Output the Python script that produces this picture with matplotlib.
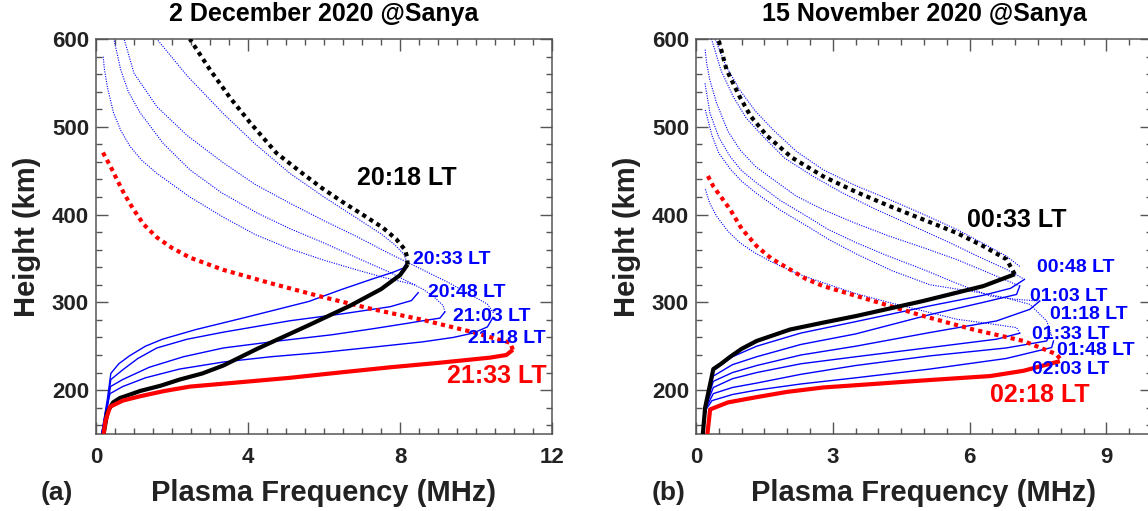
import matplotlib
matplotlib.use("Agg")
import matplotlib.pyplot as plt
from matplotlib.ticker import MultipleLocator

plt.rcParams['font.family'] = ['Liberation Sans', 'DejaVu Sans']
plt.rcParams['font.weight'] = 'bold'

# ---------------- Panel (a): 2 December 2020 ----------------
A_TITLE = "2 December 2020 @Sanya"
A_BLACK_SOLID_F = [0.2, 0.3, 0.45, 0.63, 0.9, 1.16, 1.7, 2.2, 2.8, 3.35, 4.24, 5.55, 6.68, 7.5, 8.0, 8.2]
A_BLACK_SOLID_H = [150, 175, 186, 191, 195, 199, 205, 212, 219, 228, 247, 273, 296, 315, 331, 343]
A_BLACK_DOT_F = [8.2, 8.19, 8.13, 7.9, 7.55, 7.05, 6.5, 5.95, 5.46, 4.75, 4.05, 3.53, 3.0, 2.47]
A_BLACK_DOT_H = [343, 351, 360, 372, 385, 399, 414, 430, 446, 470, 505, 533, 565, 600]
A_RED_SOLID_F = [0.2, 0.25, 0.37, 0.7, 1.16, 1.8, 2.47, 3.8, 5.1, 6.4, 7.74, 9.0, 10.37, 10.8, 10.97]
A_RED_SOLID_H = [150, 165, 181, 188, 193, 199, 204, 209, 214, 220, 226, 231, 237, 240, 246]
A_RED_DOT_F = [10.97, 10.9, 10.4, 9.92, 8.6, 7.3, 5.97, 4.66, 3.35, 2.47, 2.0, 1.6, 1.25, 0.97, 0.75, 0.55, 0.38, 0.24, 0.18]
A_RED_DOT_H = [246, 254, 260, 266, 280, 292, 306, 321, 337, 351, 362, 374, 389, 407, 423, 440, 455, 466, 471]

A_BLUE_SOLID_F = [
    [0.15, 0.3, 0.39, 0.6, 0.88, 1.3, 1.75, 2.63, 3.95, 5.6, 6.42, 7.3, 7.8, 8.09, 8.18],
    [0.15, 0.3, 0.39, 0.7, 1.1, 1.6, 2.4, 3.35, 5.1, 6.5, 7.74, 8.3, 8.48],
    [0.15, 0.3, 0.38, 0.7, 1.4, 2.3, 3.35, 4.8, 6.2, 7.3, 8.18, 8.6, 9.05, 9.18],
    [0.15, 0.25, 0.37, 0.7, 1.3, 2.2, 3.35, 4.6, 5.97, 7.3, 8.6, 9.4, 9.93, 10.3, 10.45],
]
A_BLUE_SOLID_H = [
    [150, 190, 219, 230, 239, 250, 258, 269, 283, 301, 314, 327, 334, 339, 346],
    [150, 185, 212, 223, 236, 248, 258, 266, 279, 287, 295, 302, 311],
    [150, 180, 204, 212, 226, 238, 248, 256, 263, 270, 276, 279, 282, 289],
    [150, 175, 196, 204, 214, 224, 232, 238, 243, 249, 255, 260, 265, 272, 283],
]
A_BLUE_DOT_F = [
    [8.18, 8.1, 7.85, 7.5, 6.86, 6.0, 5.1, 4.2, 3.35, 2.4, 1.6],
    [8.4, 7.6, 6.86, 6.0, 5.1, 4.2, 3.35, 2.47, 1.6, 1.2, 0.89, 0.65, 0.46, 0.3, 0.22, 0.19],
    [9.18, 9.14, 8.9, 8.6, 7.74, 6.9, 5.98, 5.1, 4.23, 3.3, 2.47, 1.77, 1.16, 0.85, 0.65, 0.47],
    [10.46, 10.3, 9.93, 9.3, 8.6, 7.7, 6.86, 6.0, 5.1, 4.2, 3.35, 2.4, 1.6, 1.0, 0.74],
]
A_BLUE_DOT_H = [
    [346, 355, 366, 378, 396, 420, 447, 480, 515, 558, 600],
    [320, 328, 337, 348, 361, 377, 397, 420, 447, 462, 478, 496, 516, 545, 566, 580],
    [289, 296, 306, 315, 334, 350, 368, 384, 402, 425, 451, 481, 516, 540, 565, 600],
    [288, 298, 307, 322, 337, 356, 375, 393, 413, 434, 459, 490, 523, 561, 600],
]
A_BLUE_LABELS = ["20:33 LT", "20:48 LT", "21:03 LT", "21:18 LT"]
A_BLUE_LABEL_F = [8.35, 8.75, 9.4, 9.8]
A_BLUE_LABEL_H = [349, 311, 284, 259]
A_BLACK_LABEL = "20:18 LT"
A_BLACK_LABEL_POS = (6.86, 442)
A_RED_LABEL = "21:33 LT"
A_RED_LABEL_POS = (9.23, 216)

# ---------------- Panel (b): 15 November 2020 ----------------
B_TITLE = "15 November 2020 @Sanya"
B_BLACK_SOLID_F = [0.15, 0.2, 0.38, 0.55, 0.75, 1.0, 1.33, 2.06, 2.8, 3.52, 4.98, 6.3, 6.99]
B_BLACK_SOLID_H = [150, 180, 224, 230, 238, 247, 256, 269, 277, 284.5, 301.5, 318.5, 332]
B_BLACK_DOT_F = [6.99, 6.81, 6.3, 5.72, 5.0, 4.25, 3.5, 2.79, 2.1, 1.55, 1.2, 0.96, 0.67, 0.49]
B_BLACK_DOT_H = [332, 349, 364, 379, 394, 409.5, 426, 443.5, 465, 490, 512, 534, 565, 600]
B_RED_SOLID_F = [0.25, 0.31, 0.7, 1.33, 2.0, 2.79, 3.9, 4.98, 6.45, 7.18, 7.98]
B_RED_SOLID_H = [150, 178, 186, 192, 198, 203, 207, 211, 216, 222, 233]
B_RED_DOT_F = [7.98, 7.9, 7.18, 6.08, 4.98, 3.89, 2.79, 2.4, 2.06, 1.65, 1.33, 1.0, 0.75, 0.55, 0.38, 0.23]
B_RED_DOT_H = [236, 241, 256, 269, 284.5, 301.5, 318.5, 327, 337.5, 350, 364, 384, 405.7, 420, 432, 447]

B_BLUE_SOLID_F = [
    [0.15, 0.22, 0.38, 0.8, 1.33, 2.3, 3.5, 5.13, 6.3, 6.9, 7.2],
    [0.15, 0.22, 0.38, 0.8, 1.33, 2.3, 3.5, 5.13, 6.3, 7.03, 7.1],
    [0.15, 0.22, 0.38, 0.8, 1.33, 2.3, 3.5, 5.13, 6.59, 7.32, 7.54],
    [0.15, 0.22, 0.38, 0.8, 1.33, 2.3, 3.5, 5.13, 6.59, 7.1],
    [0.15, 0.22, 0.38, 0.8, 1.33, 2.3, 3.5, 5.13, 6.8, 7.69, 7.76],
    [0.15, 0.22, 0.35, 0.8, 1.33, 2.3, 3.5, 5.13, 6.8, 7.8, 7.84],
]
B_BLUE_SOLID_H = [
    [150, 190, 222, 238, 250, 265, 278, 296, 308, 316, 326],
    [150, 186, 216, 229, 238, 252, 264, 286, 300, 309, 318.5],
    [150, 184, 210, 220, 228, 240, 250, 265.6, 278.8, 292, 301.5],
    [150, 182, 203, 213, 220, 230, 238, 248.5, 258, 264.8],
    [150, 180, 196, 203, 208, 218, 228, 239, 248, 256, 263.6],
    [150, 178, 188, 195, 200, 207, 214, 224, 236, 248.5, 256],
]
B_BLUE_DOT_F = [
    [7.21, 6.81, 6.2, 5.57, 4.8, 3.96, 3.2, 2.57, 1.95, 1.47, 1.1, 0.82, 0.55, 0.34],
    [7.1, 6.81, 6.3, 5.72, 5.0, 4.25, 3.5, 2.79, 2.2, 1.69, 1.3, 0.96, 0.65, 0.42],
    [7.1, 6.4, 5.72, 5.0, 4.25, 3.5, 2.79, 2.2, 1.70, 1.3, 0.965, 0.7, 0.453, 0.3, 0.234, 0.197],
    [7.54, 7.0, 6.45, 5.7, 4.98, 4.2, 3.52, 2.9, 2.43, 1.85, 1.33, 1.0, 0.746, 0.5, 0.307, 0.197],
    [7.1, 7.03, 6.4, 5.72, 5.0, 4.25, 3.5, 2.79, 2.2, 1.70, 1.3, 0.965, 0.7, 0.453, 0.3, 0.197],
    [7.8, 7.69, 7.32, 6.8, 6.23, 5.13, 4.3, 3.52, 2.9, 2.43, 1.85, 1.33, 1.0, 0.75, 0.5, 0.35, 0.2],
]
B_BLUE_DOT_H = [
    [326, 337.5, 352, 367.8, 386, 405.5, 425, 443.5, 464, 489, 510, 534, 564, 600],
    [341, 352.6, 367, 383, 400, 417, 433, 451, 472, 496.6, 518, 542, 570, 600],
    [318.5, 334, 348.7, 362, 375.2, 390, 405.5, 421, 439.6, 455, 473.7, 495, 526.8, 554, 572.3, 589.4],
    [301.5, 303.5, 307.2, 322, 337.5, 353, 367.8, 383, 398, 416, 436, 450, 466.3, 488, 515.5, 549.6],
    [264.8, 271.2, 276, 280.7, 290, 299.6, 310, 322.3, 333, 345, 356, 367.8, 381, 398, 413, 430.3],
    [262, 278.8, 297.7, 305, 311, 320, 336, 355, 372, 387, 405, 424, 438, 452, 470, 490, 520],
]
B_BLUE_LABELS = ["00:48 LT", "01:03 LT", "01:18 LT", "01:33 LT", "01:48 LT", "02:03 LT"]
B_BLUE_LABEL_F = [7.47, 7.32, 7.76, 7.36, 7.91, 7.36]
B_BLUE_LABEL_H = [339.4, 307, 286, 263.6, 244.7, 224]
B_BLACK_LABEL = "00:33 LT"
B_BLACK_LABEL_POS = (5.94, 394)
B_RED_LABEL = "02:18 LT"
B_RED_LABEL_POS = (6.45, 195)

X_LABEL = "Plasma Frequency (MHz)"
Y_LABEL = "Height (km)"

W, H = 1148, 511
fig = plt.figure(figsize=(W / 100, H / 100), dpi=100)

ax_w, ax_h = 456 / W, 395 / H
ax_b = (H - 434) / H
axA = fig.add_axes([96 / W, ax_b, ax_w, ax_h])
axB = fig.add_axes([696 / W, ax_b, ax_w, ax_h])

BLUE = '#0000FF'
RED = '#FF0000'
SPINE = '#555555'
TXT = '#222222'


def draw(ax, bs_f, bs_h, bd_f, bd_h, rs_f, rs_h, rd_f, rd_h, blue_sf, blue_sh, blue_df, blue_dh):
    for f, h in zip(blue_df, blue_dh):
        ax.plot(f, h, color=BLUE, lw=0.8, linestyle=(0, (1, 1.2)), zorder=2)
    for f, h in zip(blue_sf, blue_sh):
        ax.plot(f, h, color=BLUE, lw=1.0, zorder=3)
    ax.plot(bd_f, bd_h, color='black', lw=3, linestyle=(0, (1, 1)), dash_capstyle='butt', zorder=4)
    ax.plot(rd_f, rd_h, color=RED, lw=3, linestyle=(0, (1, 1)), dash_capstyle='butt', zorder=4)
    ax.plot(bs_f, bs_h, color='black', lw=3, zorder=5, solid_capstyle='butt', solid_joinstyle='round')
    ax.plot(rs_f, rs_h, color=RED, lw=3, zorder=5, solid_capstyle='butt', solid_joinstyle='round')


def style(ax, xmax, xmajor, title, letter, letter_x):
    ax.set_xlim(0, xmax)
    ax.set_ylim(150, 600)
    ax.xaxis.set_major_locator(MultipleLocator(xmajor))
    ax.xaxis.set_minor_locator(MultipleLocator(0.5))
    ax.yaxis.set_major_locator(MultipleLocator(100))
    ax.yaxis.set_minor_locator(MultipleLocator(20))
    for s in ax.spines.values():
        s.set_color(SPINE)
        s.set_linewidth(1.1)
    ax.tick_params(which='both', direction='in', top=True, right=True, color=SPINE, width=1.0)
    ax.tick_params(which='major', length=8.5, labelsize=16, labelcolor=TXT)
    ax.tick_params(which='minor', length=4.3)
    ax.tick_params(axis='x', which='major', pad=9)
    ax.tick_params(axis='y', which='major', pad=5)
    for lab in ax.get_xticklabels() + ax.get_yticklabels():
        lab.set_fontweight('bold')
    ax.text(0.5, 1.063, title, transform=ax.transAxes, ha='center', va='center',
            fontsize=18, fontweight='bold', color='black')
    ax.text(0.5, -0.150, X_LABEL, transform=ax.transAxes, ha='center', va='center',
            fontsize=21, fontweight='bold', color=TXT)
    ax.text(-0.152, 0.5, Y_LABEL, transform=ax.transAxes, ha='center', va='center',
            rotation=90, fontsize=21, fontweight='bold', color=TXT)
    ax.text(letter_x, -0.150, letter, transform=ax.transAxes, ha='center', va='center',
            fontsize=19, fontweight='bold', color=TXT)


draw(axA, A_BLACK_SOLID_F, A_BLACK_SOLID_H, A_BLACK_DOT_F, A_BLACK_DOT_H,
     A_RED_SOLID_F, A_RED_SOLID_H, A_RED_DOT_F, A_RED_DOT_H,
     A_BLUE_SOLID_F, A_BLUE_SOLID_H, A_BLUE_DOT_F, A_BLUE_DOT_H)
draw(axB, B_BLACK_SOLID_F, B_BLACK_SOLID_H, B_BLACK_DOT_F, B_BLACK_DOT_H,
     B_RED_SOLID_F, B_RED_SOLID_H, B_RED_DOT_F, B_RED_DOT_H,
     B_BLUE_SOLID_F, B_BLUE_SOLID_H, B_BLUE_DOT_F, B_BLUE_DOT_H)

style(axA, 12, 4, A_TITLE, "(a)", -0.086)
style(axB, 10, 3, B_TITLE, "(b)", -0.061)

for ax, labels, lf, lh, bl, blp, rl, rlp in [
        (axA, A_BLUE_LABELS, A_BLUE_LABEL_F, A_BLUE_LABEL_H, A_BLACK_LABEL, A_BLACK_LABEL_POS, A_RED_LABEL, A_RED_LABEL_POS),
        (axB, B_BLUE_LABELS, B_BLUE_LABEL_F, B_BLUE_LABEL_H, B_BLACK_LABEL, B_BLACK_LABEL_POS, B_RED_LABEL, B_RED_LABEL_POS)]:
    for t, f, h in zip(labels, lf, lh):
        ax.text(f, h, t, color=BLUE, fontsize=14, fontweight='bold', ha='left', va='center', zorder=6)
    ax.text(blp[0], blp[1], bl, color='black', fontsize=18, fontweight='bold', ha='left', va='center', zorder=6)
    ax.text(rlp[0], rlp[1], rl, color=RED, fontsize=18, fontweight='bold', ha='left', va='center', zorder=6)

fig.savefig("out.png", dpi=100)
